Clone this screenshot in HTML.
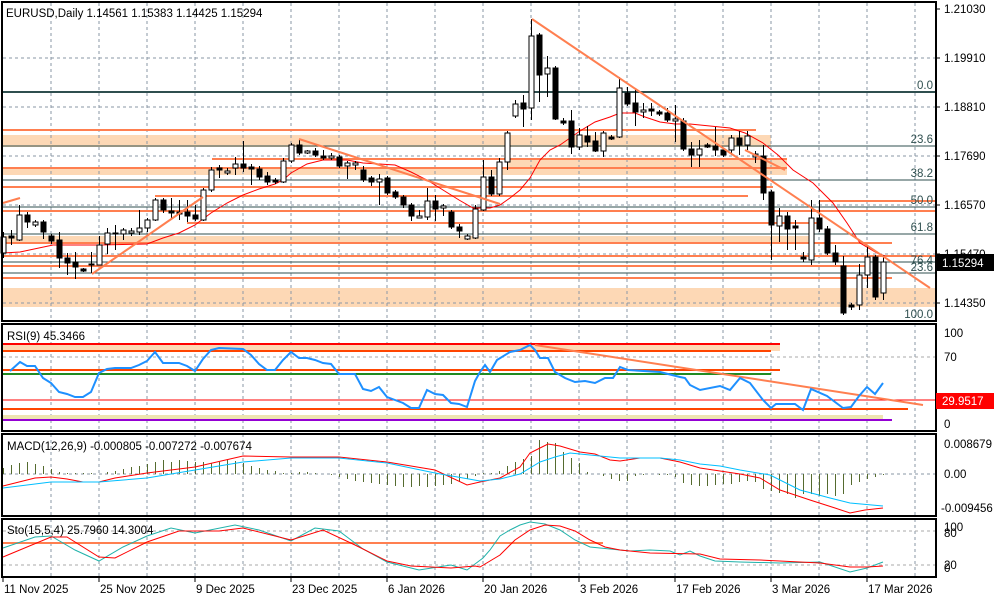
<!DOCTYPE html>
<html><head><meta charset="utf-8"><style>
html,body{margin:0;padding:0;background:#fff;}
svg{display:block;font-family:"Liberation Sans",Tahoma,sans-serif;font-size:11.5px;}
</style></head><body>
<svg id="s" width="1000" height="600" xmlns="http://www.w3.org/2000/svg">
<rect width="1000" height="600" fill="#fff"/>
<g id="g"></g>
</svg>
<script>
var g=document.getElementById('g');var out='';
function L(x1,y1,x2,y2,c,w,d){out+='<line x1="'+x1+'" y1="'+y1+'" x2="'+x2+'" y2="'+y2+'" stroke="'+c+'" stroke-width="'+(w||1)+'"'+(d?' stroke-dasharray="'+d+'"':'')+'/>';}
function R(x,y,w,h,c){out+='<rect x="'+x+'" y="'+y+'" width="'+w+'" height="'+h+'" fill="'+c+'"/>';}
function T(x,y,s,c,a){out+='<text x="'+x+'" y="'+y+'" fill="'+(c||'#000')+'"'+(a?' text-anchor="'+a+'"':'')+'>'+s+'</text>';}
function P(pts,c,w){out+='<polyline fill="none" stroke="'+c+'" stroke-width="'+(w||1)+'" points="'+pts.map(function(p){return p.join(',')}).join(' ')+'"/>';}
var GR='#8a97a6',OR='#ff7f50',PE='#fdd8b5',DK='#2f4f4f';
R(3,135,768,12,PE);R(3,167,784,8,PE);R(507,159,280,8,PE);R(3,236,810,8,PE);R(3,288,932,19,PE);
[51,99,147,195,243,291,339,387,435,483,531,579,627,675,723,771,819,867,915].forEach(function(x){
 L(x,3,x,321,GR,1,'3,3');L(x,324,x,431,GR,1,'3,3');L(x,434,x,516,GR,1,'3,3');L(x,519,x,577,GR,1,'3,3');});
[58,107,156,205,254,303].forEach(function(y){L(3,y,935,y,GR,1,'3,3');});
L(3,92,935,92,DK,2);[146,180,207,234,262,273].forEach(function(y){L(3,y,935,y,DK,1);});
[[3,130,756],[212,159,787],[3,168,787],[3,187,773],[155,196,748],[819,201,935],[3,211,935],[187,223,820],[3,243,892],[3,256,935],[3,266,868],[3,278,892]].forEach(function(a){L(a[0],a[1],a[2],a[1],OR,2);});
P([[3,253],[20,252],[53,245],[100,245],[147,244],[163,238],[179,233],[195,225],[211,213],[227,203],[243,195],[259,189],[275,184],[283,180],[291,173],[307,164],[323,160],[347,160],[363,163],[379,164],[395,165],[411,172],[427,180],[443,190],[459,200],[473,208],[490,208],[500,205],[510,198],[520,190],[530,178],[540,160],[550,150],[560,145],[570,138],[580,131],[595,122],[610,117],[620,113],[635,113],[645,117],[660,122],[675,124],[690,124],[710,126],[730,128],[745,133],[763,143],[778,155],[793,170],[813,183],[833,203],[847,223],[860,243],[877,253],[885,256]],'#f00',1);
var C=[[237,253,232,258,1],[236,238,230,245,0],[215,240,205,241,1],[215,222,212,228,0],[222,225,220,227,1],[222,232,220,239,0],[236,241,234,244,0],[240,258,232,268,0],[258,263,253,275,0],[262,267,252,279,0],[269,271,268,272,0],[264,265,252,273,1],[245,265,236,265,1],[233,244,228,254,1],[233,234,225,250,1],[230,234,228,240,1],[231,233,228,236,1],[228,232,210,235,1],[220,228,218,232,1],[200,220,198,221,1],[200,210,198,213,0],[211,213,198,218,0],[212,214,200,220,0],[212,216,200,222,0],[215,219,205,221,0],[190,220,188,221,1],[170,190,167,192,1],[168,170,165,178,0],[171,173,168,175,1],[164,168,157,175,1],[164,168,141,172,0],[167,169,164,185,0],[169,177,166,180,0],[176,182,172,185,0],[180,182,178,184,0],[161,182,158,183,1],[145,161,143,163,1],[145,153,140,155,0],[151,153,150,154,1],[151,155,148,157,0],[156,158,150,160,0],[156,158,153,160,1],[157,166,155,168,0],[163,166,161,179,1],[163,165,161,170,1],[170,180,166,182,0],[178,182,176,186,0],[179,182,174,205,1],[178,193,176,195,0],[192,197,190,199,0],[197,205,195,208,0],[205,216,203,221,0],[216,218,210,218,1],[201,217,188,220,1],[201,209,195,221,0],[206,208,204,216,1],[212,227,210,229,0],[227,231,224,238,0],[236,239,234,240,1],[209,238,205,239,1],[177,210,160,211,1],[177,194,170,196,0],[162,194,158,196,1],[133,162,131,170,1],[104,116,100,118,1],[103,109,95,127,0],[36,108,19,120,1],[35,75,33,102,0],[68,74,56,97,1],[68,119,66,120,0],[121,123,118,125,0],[121,147,110,154,0],[135,147,128,150,1],[136,142,126,147,0],[141,151,132,152,0],[133,151,131,157,1],[137,139,135,140,0],[88,137,77,138,1],[93,104,87,106,0],[103,112,88,126,0],[110,112,103,118,1],[109,111,103,116,0],[112,114,110,116,0],[113,120,108,122,0],[119,121,105,142,1],[121,149,118,151,0],[149,155,142,167,0],[149,155,140,167,1],[145,147,143,148,0],[146,150,127,156,0],[150,155,148,157,0],[138,150,135,155,1],[138,145,131,155,0],[136,145,131,150,1],[154,157,151,163,1],[156,193,145,200,0],[192,225,190,260,0],[216,226,208,242,1],[216,229,212,250,0],[226,228,220,250,0],[257,259,252,262,0],[218,260,200,265,1],[218,229,200,232,0],[229,253,226,255,0],[253,262,245,265,0],[266,313,256,315,0],[305,307,303,310,0],[275,305,264,310,1],[257,275,246,288,1],[257,297,255,300,0],[262,293,255,300,1]];
C.forEach(function(c,i){var x=3+8*i;L(x+.5,c[2],x+.5,c[3],'#000',1);
 var h=Math.max(1,c[1]-c[0]);
 out+='<rect x="'+(x-2)+'" y="'+c[0]+'" width="5" height="'+h+'" fill="'+(c[4]?'#fff':'#000')+'" stroke="#000" stroke-width="1"/>';});
L(3,203,20,198,OR,2);L(92,274,203,197,OR,2);L(299,139,500,204,OR,2);L(532,19,930,288,OR,2);L(745,150,785,170,OR,2);
R(3,344,777,7,PE);L(3,344,780,344,'#f00',2);L(3,351,771,351,'#ff4500',2);L(3,370,780,370,'#ff4500',2);L(3,374,771,374,'#228b22',2);
L(3,357,935,357,'#aaa',1,'3,3');L(3,400,935,400,'#f00',1);L(3,409,908,409,'#ff4500',2);R(3,415,880,4,'#eee4b0');L(3,420,892,420,'#9400d3',2);L(3,431,935,431,'#aaa',1,'3,3');
L(535,345,923,405,OR,2);
P([[10,371],[20,362],[27,366],[35,366],[43,378],[51,383],[59,392],[67,394],[75,397],[83,397],[91,392],[99,373],[107,369],[115,368],[131,368],[139,365],[147,361],[155,352],[163,363],[179,363],[187,366],[195,371],[203,359],[211,350],[219,348],[243,349],[251,355],[259,364],[267,370],[275,370],[283,360],[291,352],[299,358],[307,358],[315,360],[323,363],[331,364],[339,374],[355,374],[363,389],[371,391],[379,387],[387,397],[395,400],[403,403],[411,408],[419,408],[427,390],[435,394],[443,395],[451,403],[459,404],[467,407],[475,381],[480,372],[485,365],[490,372],[497,360],[510,352],[520,350],[530,345],[535,350],[540,358],[548,358],[555,372],[565,378],[575,382],[585,381],[595,383],[605,378],[613,378],[620,367],[628,370],[660,372],[680,377],[685,378],[690,385],[700,390],[720,386],[730,390],[740,378],[750,383],[763,400],[771,408],[776,404],[795,404],[803,410],[811,389],[827,396],[843,408],[851,407],[859,396],[867,387],[875,394],[883,383]],'#1e90ff',2);
L(3,474,935,474,GR,1,'3,3');
var H=[6,9,11,12,10,8,5,2,1,1,1,1,0,2,3,5,7,8,10,12,14,12,14,13,12,12,11,12,14,13,11,8,6,4,3,1,1,2,2,1,0,-1,-3,-5,-7,-8,-9,-10,-11,-12,-13,-13,-12,-13,-12,-11,-10,-8,-5,-2,1,1,3,8,12,15,18,34,32,31,22,16,11,2,0,-2,-5,-7,-7,-2,-1,0,-1,-1,-3,-9,-11,-12,-12,-11,-10,-10,-8,-7,-8,-15,-17,-19,-20,-24,-20,-20,-22,-20,-22,-20,-11,-8,-5,-3,-1];
H.forEach(function(h,i){if(h){var x=3+8*i+.5;L(x,474,x,474-h,'#556b2f',1);}});
P([[3,486],[35,478],[51,477],[67,479],[83,482],[99,482],[115,478],[147,473],[195,467],[243,456],[291,457],[339,457],[387,462],[435,470],[467,485],[480,482],[500,478],[520,467],[530,453],[540,448],[548,444],[560,446],[580,452],[595,454],[610,460],[620,461],[640,458],[660,458],[680,462],[700,468],[720,471],[740,474],[760,478],[780,490],[810,500],[835,508],[850,513],[865,510],[883,508]],'#f00',1);
P([[3,488],[51,482],[99,482],[147,478],[195,470],[243,462],[291,458],[339,458],[387,463],[435,473],[480,481],[500,479],[520,474],[540,462],[555,457],[570,453],[580,454],[600,456],[620,458],[660,458],[680,460],[700,464],[720,466],[740,470],[770,475],[800,490],[830,498],[850,503],[883,506]],'#00bfff',1);
L(3,531,935,531,'#aaa',1,'3,3');L(3,565,935,565,'#aaa',1,'3,3');L(3,543,603,543,OR,2);
P([[3,548],[35,537],[51,536],[75,550],[99,561],[123,547],[147,536],[171,528],[195,533],[235,525],[259,530],[291,541],[315,528],[339,531],[363,549],[387,562],[419,570],[451,565],[467,570],[483,558],[490,550],[500,536],[510,530],[520,525],[530,522],[545,524],[560,530],[575,540],[590,547],[610,549],[630,551],[650,550],[670,551],[680,555],[690,551],[700,556],[715,561],[740,562],[780,563],[820,562],[850,572],[867,568],[883,562]],'#20b2aa',1);
P([[3,557],[51,537],[67,537],[99,557],[115,558],[147,542],[179,531],[219,531],[243,528],[291,540],[323,530],[355,545],[387,561],[411,566],[451,568],[475,566],[480,567],[500,555],[515,540],[530,530],[545,525],[560,526],[575,531],[590,540],[605,547],[620,550],[650,553],[700,554],[720,559],[760,560],[820,563],[850,567],[867,567],[883,566]],'#f00',1);
function F(y1,y2){out+='<rect x="2" y="'+y1+'" width="934" height="'+(y2-y1)+'" fill="none" stroke="#000" stroke-width="2"/>';}
F(2,321);F(324,431);F(434,516);F(519,577);
[['1.21030',9],['1.19910',58],['1.18810',107],['1.17690',156],['1.16570',205],['1.15470',254],['1.14350',303]].forEach(function(a){L(936,a[1],940,a[1],'#000');T(944,a[1]+4,a[0]);});
R(936,254,58,17,'#000');T(942,267,'1.15294','#fff');
[['0.0',89],['23.6',143],['38.2',177],['50.0',204],['61.8',231],['76.4',264],['23.6',271],['100.0',318]].forEach(function(a){T(933,a[1],a[0],'#2f4f4f','end');});
T(944,337,'100');T(944,361,'70');T(944,428,'0');
R(936,393,58,16,'#f00');T(942,405,'29.9517','#fff');
T(944,448,'0.008679');T(944,478,'0.00');T(941,512,'-0.009456');
T(944,531,'100');T(944,537,'80');T(944,569,'20');T(944,572,'0');
T(6,17,'EURUSD,Daily  1.14561 1.15383 1.14425 1.15294');
T(7,340,'RSI(9) 45.3466');T(7,450,'MACD(12,26,9) -0.000805 -0.007272 -0.007674');T(7,534,'Sto(15,5,4) 25.7960 14.3004');
[['11 Nov 2025',3],['25 Nov 2025',99],['9 Dec 2025',195],['23 Dec 2025',291],['6 Jan 2026',387],['20 Jan 2026',483],['3 Feb 2026',579],['17 Feb 2026',675],['3 Mar 2026',771],['17 Mar 2026',867]].forEach(function(a){L(a[1],577,a[1],582,'#000');T(a[1]+1,593,a[0]);});
g.innerHTML=out;
</script>
</body></html>
